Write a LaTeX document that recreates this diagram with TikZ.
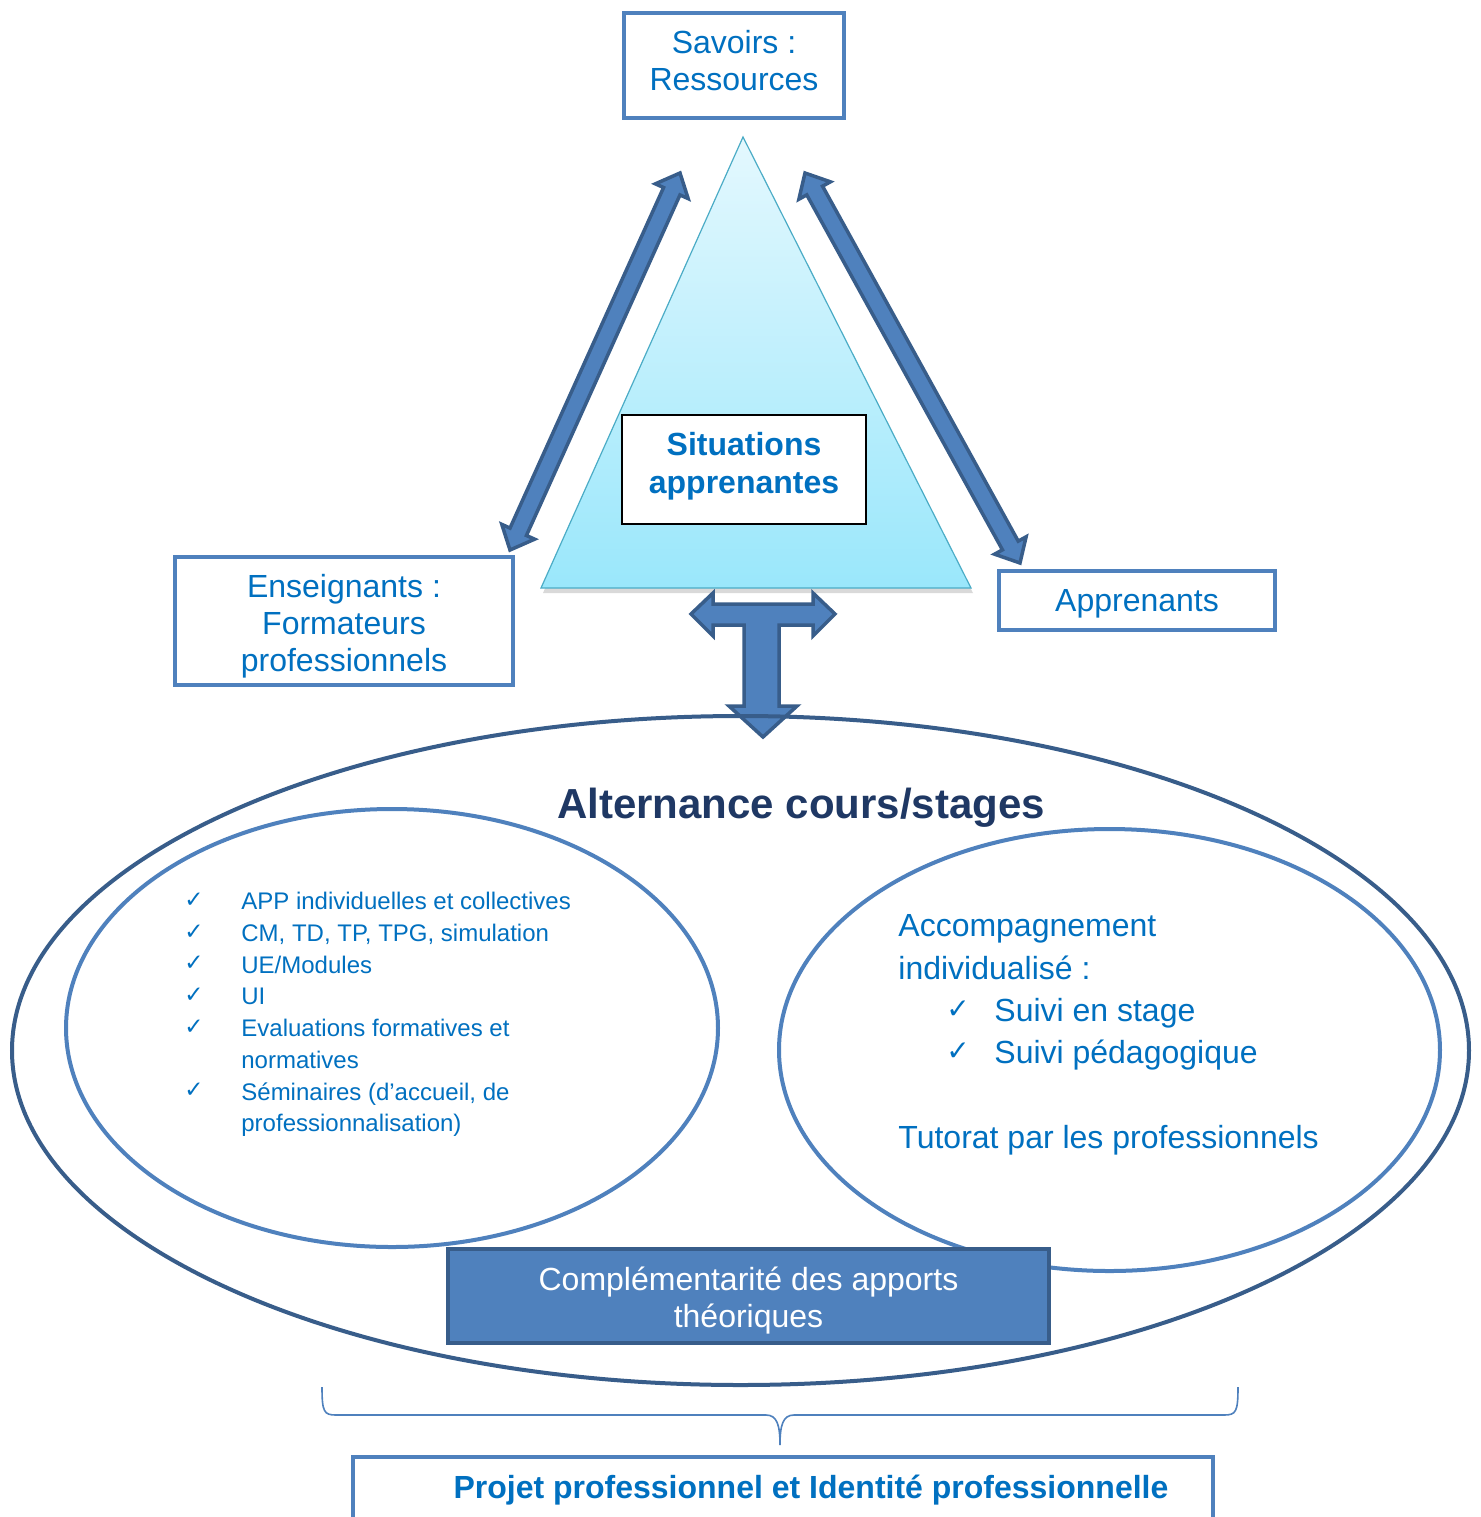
\documentclass[tikz,border=0pt]{standalone}
\usepackage{fontspec}
\setmainfont{Liberation Sans}
\newfontfamily\dejavu{DejaVu Sans}
\usetikzlibrary{calc}
\definecolor{txtblue}{RGB}{0,112,192}
\definecolor{accent}{RGB}{79,129,189}
\definecolor{accentdk}{RGB}{56,93,138}
\definecolor{navy}{RGB}{31,56,100}
\definecolor{tritop}{RGB}{228,248,254}
\definecolor{tribot}{RGB}{154,231,251}
\definecolor{triline}{RGB}{75,172,198}
\newcommand\setfs[2]{\fontsize{#1}{#2}\selectfont}
\tikzset{
  bluebox/.style={draw=accent, line width=2pt, fill=white, inner sep=0pt},
  boxtext/.style={text=txtblue, align=center, inner sep=0pt, font=\setfs{16}{18.5}},
  fatarrow/.style={fill=accent, draw=accentdk, line width=1.75pt, line join=miter},
  txt/.style={text=txtblue, inner sep=0pt, anchor=base west},
  smalltxt/.style={txt, font=\setfs{12}{16}},
  bigtxt/.style={txt, font=\setfs{16}{18.5}},
  smallchk/.style={txt, font=\dejavu\setfs{11.5}{12}},
  bigchk/.style={txt, font=\dejavu\setfs{14}{16}},
  ring/.style={line width=2pt, draw=accent},
}
\newcommand\dblarr[2]{%
  \coordinate (#1h) at ($(#1)!10pt!(#2)$);
  \coordinate (#2h) at ($(#2)!10pt!(#1)$);
  \filldraw[fatarrow] (#1) -- ($(#1h)!9pt!90:(#2)$) -- ($(#1h)!4.5pt!90:(#2)$)
    -- ($(#2h)!4.5pt!-90:(#1)$) -- ($(#2h)!9pt!-90:(#1)$) -- (#2)
    -- ($(#2h)!9pt!90:(#1)$) -- ($(#2h)!4.5pt!90:(#1)$)
    -- ($(#1h)!4.5pt!-90:(#2)$) -- ($(#1h)!9pt!-90:(#2)$) -- cycle;}
\begin{document}
\begin{tikzpicture}[x=0.5pt,y=-0.5pt]
\clip (0,0) rectangle (1481,1517);
\fill[white] (0,0) rectangle (1481,1517);

% triangle with soft shadow
\fill[black, opacity=0.15] (743,142) -- (973,593) -- (543,593) -- cycle;
\shadedraw[top color=tritop, bottom color=tribot, draw=triline, line width=0.6pt]
  (743,137) -- (971,588) -- (541,588) -- cycle;

% boxes
\node[bluebox, minimum width=110pt, minimum height=52.5pt] (sav) at (734,65.5) {};
\node[boxtext] (savt) at (734,61) {Savoirs :\\Ressources};
\node[bluebox, minimum width=169pt, minimum height=64pt] (ens) at (344,621) {};
\node[boxtext] (enst) at (344,626) {Enseignants :\\Formateurs\\professionnels};
\node[bluebox, minimum width=138pt, minimum height=29.5pt] (app) at (1137,600.5) {};
\node[boxtext] (appt) at (1137,603.5) {Apprenants};
\node[draw=black, line width=0.6pt, fill=white, minimum width=122pt, minimum height=54.5pt, inner sep=0pt] (sit) at (744,469.5) {};
\node[boxtext, font=\bfseries\setfs{16}{19}] (sitt) at (744,466.5) {Situations\\apprenantes};

% double arrows
\coordinate (la) at (510,550); \coordinate (lb) at (680,173);
\coordinate (ra) at (805,173); \coordinate (rb) at (1020,563);
\dblarr{la}{lb}
\dblarr{ra}{rb}

% T-shaped arrow
\filldraw[fatarrow] (691,614) -- (713,593) -- (713,604) -- (813,604) -- (813,593) -- (835,614)
  -- (813,636) -- (813,625) -- (779,625) -- (779,706) -- (797,706) -- (763,737) -- (729,706)
  -- (744,706) -- (744,625) -- (713,625) -- (713,636) -- cycle;

% ellipses
\draw[line width=2pt, draw=accentdk] (740.5,1050.5) ellipse [x radius=364.25pt, y radius=167.25pt];
\draw[ring] (392,1028) ellipse [x radius=163pt, y radius=109.5pt];
\draw[ring] (1109.5,1050) ellipse [x radius=165.25pt, y radius=110.5pt];

\node[font=\bfseries\setfs{21}{24}, text=navy, inner sep=0pt, anchor=base] (alt) at (801,818) {Alternance cours/stages};

% left list
\node[smallchk] (c1) at (184,907) {✓};
\node[smallchk] (c2) at (184,939) {✓};
\node[smallchk] (c3) at (184,970) {✓};
\node[smallchk] (c4) at (184,1002) {✓};
\node[smallchk] (c5) at (184,1034) {✓};
\node[smallchk] (c6) at (184,1097) {✓};
\node[smalltxt] (l1) at (241,909.5) {APP individuelles et collectives};
\node[smalltxt] (l2) at (241,941.3) {CM, TD, TP, TPG, simulation};
\node[smalltxt] (l3) at (241,973) {UE/Modules};
\node[smalltxt] (l4) at (241,1004.8) {UI};
\node[smalltxt] (l5) at (241,1036.5) {Evaluations formatives et};
\node[smalltxt] (l6) at (241,1068.3) {normatives};
\node[smalltxt] (l7) at (241,1100) {Séminaires (d’accueil, de};
\node[smalltxt] (l8) at (241,1131.8) {professionnalisation)};

% right list
\node[bigtxt] (acc) at (898,936) {Accompagnement};
\node[bigtxt] (ind) at (898,979) {individualisé :};
\node[bigchk] (rc1) at (946,1018) {✓};
\node[bigchk] (rc2) at (946,1060) {✓};
\node[bigtxt] (s1) at (994,1021) {Suivi en stage};
\node[bigtxt] (s2) at (994,1063) {Suivi pédagogique};
\node[bigtxt] (tut) at (898,1148) {Tutorat par les professionnels};

% complementarity box
\node[fill=accent, draw=accentdk, line width=2pt, minimum width=300.5pt, minimum height=47pt, inner sep=0pt] (comp) at (748.5,1296) {};
\node[text=white, align=center, font=\setfs{16}{18.5}, inner sep=0pt] (compt) at (748.5,1301)
      {Complémentarité des apports\\théoriques};

% brace
\coordinate (btip) at (780,1445);
\draw[accent, line width=0.8pt] (322,1387) .. controls (322,1412) and (324,1415) .. (336,1415)
  -- (766,1415) .. controls (777,1415) and (780,1425) .. (btip)
  .. controls (780,1425) and (783,1415) .. (794,1415) -- (1224,1415)
  .. controls (1236,1415) and (1238,1412) .. (1238,1387);

% bottom box
\node[draw=accent, line width=2pt, minimum width=430pt, minimum height=60pt, inner sep=0pt] (proj) at (783,1517) {};
\node[text=txtblue, font=\bfseries\setfs{16}{18.5}, inner sep=0pt, anchor=base] (projt) at (811,1498)
  {Projet professionnel et Identité professionnelle};
\end{tikzpicture}
\end{document}
